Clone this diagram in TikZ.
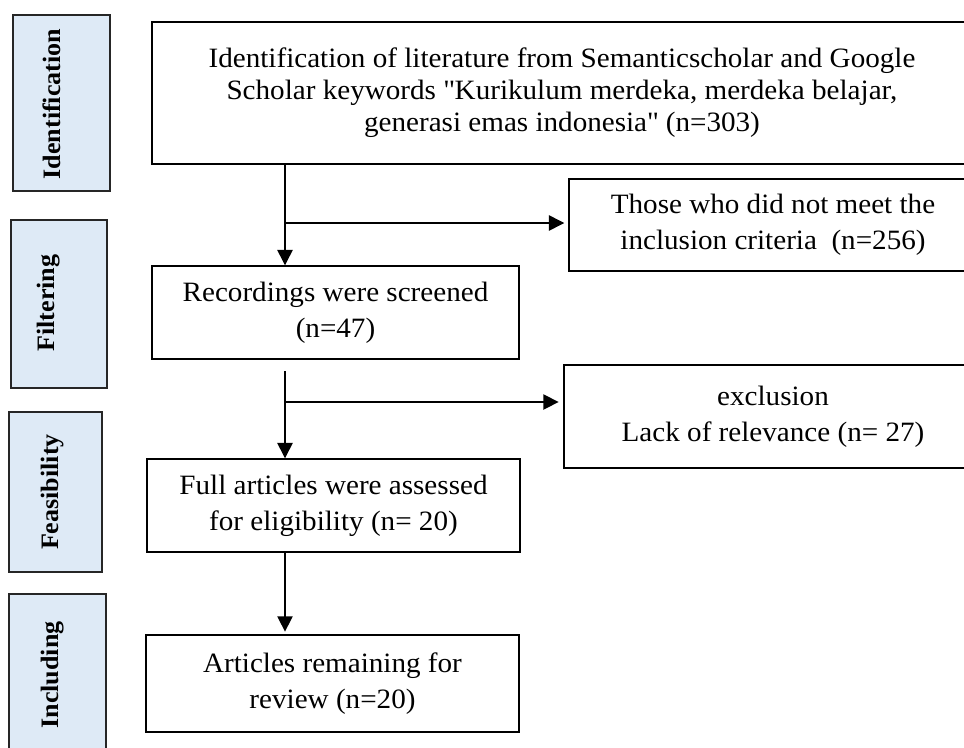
\documentclass[tikz,border=0pt]{standalone}
\usepackage{fontspec}
\setmainfont[FakeStretch=1.04]{Liberation Serif}
\usetikzlibrary{arrows.meta}
\definecolor{sidefill}{HTML}{DEEAF6}
\begin{document}
\begin{tikzpicture}[x=0.75pt,y=-0.75pt,
  mainbox/.style={draw=black,line width=1.1pt,rectangle,inner sep=0pt,align=center,font=\fontsize{21}{27}\selectfont},
  sidebox/.style={draw=black!85,line width=1.4pt,fill=sidefill,rectangle,inner sep=0pt,rotate=90},
  sidelabel/.style={rotate=90,anchor=base,inner sep=0pt,font=\bfseries\fontsize{18.8}{22}\selectfont},
  arr/.style={line width=1.1pt,-{Triangle[length=11.5pt,width=11.5pt]}}]
\useasboundingbox (0,0) rectangle (964,747);
% side boxes
\node[sidebox,minimum width=132pt,minimum height=72.75pt] (id) at (61.5,103) {};
\node[sidebox,minimum width=126pt,minimum height=72pt] (filt) at (59,304) {};
\node[sidebox,minimum width=120pt,minimum height=69.75pt] (feas) at (55.5,492) {};
\node[sidebox,minimum width=121.5pt,minimum height=72.75pt] (incl) at (57.5,675) {};
\node[sidelabel] (idl) at (60,104) {Identification};
\node[sidelabel] (filtl) at (54,303) {Filtering};
\node[sidelabel] (feasl) at (58,492) {Feasibility};
\node[sidelabel] (incll) at (58,675) {Including};
% main boxes
\node[mainbox,minimum width=615pt,minimum height=106.5pt,font=\fontsize{21}{24}\selectfont] (top) at (562,93)
  {Identification of literature from Semanticscholar and Google\\Scholar keywords \textquotedbl Kurikulum merdeka, merdeka belajar,\\generasi emas indonesia\textquotedbl{} (n=303)};
\node[mainbox,minimum width=306pt,minimum height=69pt] (those) at (773,225)
  {Those who did not meet the\\inclusion criteria\ \ (n=256)};
\node[mainbox,minimum width=275.25pt,minimum height=69.75pt] (rec) at (335.5,312.5)
  {Recordings were screened\\(n=47)};
\node[mainbox,minimum width=313.5pt,minimum height=77.25pt] (excl) at (773,416.5)
  {exclusion\\Lack of relevance (n= 27)};
\node[mainbox,minimum width=279.75pt,minimum height=69.75pt] (full) at (333.5,505.5)
  {Full articles were assessed\\for eligibility (n= 20)};
\node[mainbox,minimum width=279.75pt,minimum height=72.75pt] (final) at (332.5,683.5)
  {Articles remaining for\\review (n=20)};
% connectors
\coordinate (v1) at (285,223);
\coordinate (v2) at (285,371);
\coordinate (b2) at (285,402);
\draw[arr] (top.south -| v1) -- (rec.north -| v1);
\draw[arr,shorten >=3pt] (v1) -- (those.west |- v1);
\draw[arr] (v2) -- (full.north -| v2);
\draw[arr,shorten >=3.5pt] (b2) -- (excl.west |- b2);
\draw[arr,shorten >=2pt] (full.south -| v1) -- (final.north -| v1);
\end{tikzpicture}
\end{document}
